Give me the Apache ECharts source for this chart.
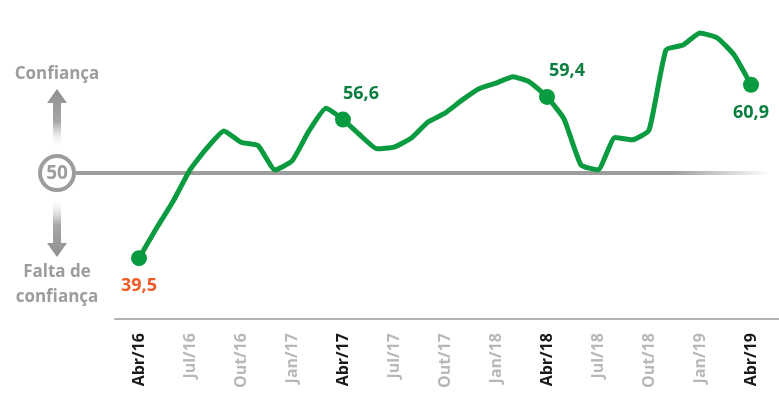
<!DOCTYPE html>
<html>
<head>
<meta charset="utf-8">
<script src="https://cdn.jsdelivr.net/npm/echarts@6/dist/echarts.min.js"></script>
<style>
  html, body { margin: 0; padding: 0; background: #fff; }
  #chart { width: 779px; height: 402px; }
</style>
</head>
<body>
<div id="chart"></div>
<script>
// monthly index, Abr/16 .. Abr/19
const values = [39.5, 43.1, 46.5, 50.4, 53.1, 55.2, 53.8, 53.4, 50.4, 51.5, 55.2, 58.0, 56.6,
  54.7, 53.0, 53.2, 54.3, 56.3, 57.4, 59.0, 60.4, 61.1, 61.9, 61.2, 59.4,
  56.7, 51.0, 50.4, 54.4, 54.1, 55.3, 65.2, 65.8, 67.3, 66.7, 64.6, 60.9];
const tickIdx = [0, 3, 6, 9, 12, 15, 18, 21, 24, 27, 30, 33, 36];
const tickLabels = ['Abr/16', 'Jul/16', 'Out/16', 'Jan/17', 'Abr/17', 'Jul/17', 'Out/17',
  'Jan/18', 'Abr/18', 'Jul/18', 'Out/18', 'Jan/19', 'Abr/19'];
const highlighted = [0, 12, 24, 36];
const midline = 50;

const GREEN = '#0a9a3f';
const DARK_GREEN = '#0a7f3f';
const GREY = '#9d9d9d';
const FONT = '"Open Sans", sans-serif';

const labelPos = { 0: [0, 28], 12: [18, -26], 24: [20, -26], 36: [0, 28] };

const seriesData = values.map((v, i) => {
  const item = { value: [i, v] };
  if (highlighted.includes(i)) {
    item.symbolSize = 16;
    item.symbol = 'circle';
    item.label = {
      show: true,
      position: 'inside',
      offset: labelPos[i],
      color: i === 0 ? '#f05a24' : DARK_GREEN,
      fontSize: 18,
      fontWeight: 'bold',
      fontFamily: FONT,
      formatter: p => p.value[1].toFixed(1).replace('.', ',')
    };
  } else {
    item.symbolSize = 0;
  }
  return item;
});

const chart = echarts.init(document.getElementById('chart'));
chart.setOption({
  animation: false,
  grid: { left: 115, right: 0, top: 11, bottom: 83 },
  xAxis: {
    type: 'value',
    min: -24 / 17,
    max: -24 / 17 + 664 / 17,
    splitLine: { show: false },
    axisLine: { show: true, onZero: false, lineStyle: { color: '#b3b3b3', width: 2 } },
    axisTick: { show: false },
    axisLabel: {
      customValues: tickIdx,
      rotate: 90,
      margin: 14,
      fontSize: 16,
      fontWeight: 'bold',
      fontFamily: FONT,
      color: v => (v % 12 === 0 ? '#1a1a1a' : '#b8b8b8'),
      formatter: v => tickLabels[tickIdx.indexOf(Math.round(v))] || ''
    }
  },
  yAxis: {
    type: 'value',
    min: 32,
    max: 70,
    show: false,
    splitLine: { show: false }
  },
  series: [{
    type: 'line',
    data: seriesData,
    smooth: 0.15,
    showAllSymbol: true,
    itemStyle: { color: GREEN },
    lineStyle: { color: GREEN, width: 5 },
    z: 5
  }]
});

// side annotation: 50 reference line, arrows and captions
const y50 = chart.convertToPixel({ gridIndex: 0 }, [0, midline])[1];
const cx = 57;
chart.setOption({
  graphic: [
    {
      type: 'line',
      shape: { x1: cx + 19, y1: y50, x2: 768, y2: y50 },
      style: {
        lineWidth: 4,
        stroke: new echarts.graphic.LinearGradient(0, 0, 1, 0, [
          { offset: 0, color: GREY },
          { offset: 0.86, color: GREY },
          { offset: 1, color: 'rgba(157,157,157,0)' }
        ])
      },
      z: 1
    },
    {
      type: 'circle',
      shape: { cx: cx, cy: y50, r: 17 },
      style: { fill: '#fff', stroke: GREY, lineWidth: 4 },
      z: 2
    },
    {
      type: 'text',
      x: cx, y: y50,
      style: {
        text: String(midline), fill: GREY, font: 'bold 19px ' + FONT,
        align: 'center', verticalAlign: 'middle'
      },
      z: 3
    },
    {
      type: 'polygon',
      shape: { points: [[cx - 4, y50 - 24], [cx - 4, y50 - 70], [cx - 10, y50 - 70], [cx, y50 - 84], [cx + 10, y50 - 70], [cx + 4, y50 - 70], [cx + 4, y50 - 24]] },
      style: {
        fill: new echarts.graphic.LinearGradient(0, 0, 0, 1, [
          { offset: 0, color: '#8f8f8f' },
          { offset: 0.55, color: '#a8a8a8' },
          { offset: 1, color: 'rgba(255,255,255,0)' }
        ])
      }
    },
    {
      type: 'polygon',
      shape: { points: [[cx - 4, y50 + 24], [cx - 4, y50 + 70], [cx - 10, y50 + 70], [cx, y50 + 84], [cx + 10, y50 + 70], [cx + 4, y50 + 70], [cx + 4, y50 + 24]] },
      style: {
        fill: new echarts.graphic.LinearGradient(0, 0, 0, 1, [
          { offset: 0, color: 'rgba(255,255,255,0)' },
          { offset: 0.45, color: '#a8a8a8' },
          { offset: 1, color: '#8f8f8f' }
        ])
      }
    },
    {
      type: 'text',
      x: cx, y: y50 - 99,
      style: { text: 'Confiança', fill: GREY, font: 'bold 17px ' + FONT, align: 'center', verticalAlign: 'middle' }
    },
    {
      type: 'text',
      x: cx, y: y50 + 99,
      style: { text: 'Falta de', fill: GREY, font: 'bold 17px ' + FONT, align: 'center', verticalAlign: 'middle' }
    },
    {
      type: 'text',
      x: cx, y: y50 + 124,
      style: { text: 'confiança', fill: GREY, font: 'bold 17px ' + FONT, align: 'center', verticalAlign: 'middle' }
    }
  ]
});
</script>
</body>
</html>
